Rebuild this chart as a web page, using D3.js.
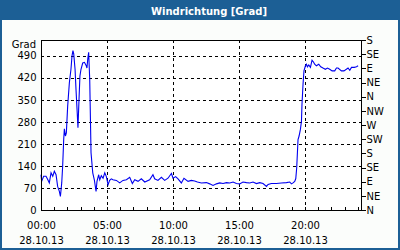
<!DOCTYPE html>
<html><head><meta charset="utf-8">
<script src="https://cdn.jsdelivr.net/npm/d3@7"></script>
<style>
html,body{margin:0;padding:0;background:#fff;}
svg{display:block;}
text{font-family:"DejaVu Sans",Verdana,sans-serif;}
</style></head>
<body>
<script>
const title = "Windrichtung [Grad]";
const yUnit = "Grad";
const hours = [0.00,0.05,0.20,0.38,0.50,0.63,0.76,0.89,1.01,1.14,1.26,1.39,1.47,1.57,1.64,1.72,1.77,1.85,1.92,2.02,2.15,2.27,2.35,2.42,2.48,2.58,2.65,2.73,2.80,2.88,2.95,3.03,3.16,3.29,3.41,3.48,3.54,3.61,3.69,3.79,3.92,4.04,4.17,4.24,4.37,4.45,4.57,4.70,4.83,4.95,5.08,5.20,5.33,5.45,5.71,5.96,6.21,6.47,6.72,6.92,7.10,7.35,7.60,7.86,8.23,8.48,8.61,8.86,9.12,9.37,9.62,9.88,10.00,10.20,10.38,10.63,10.83,11.14,11.39,11.64,11.85,12.15,12.53,12.78,13.03,13.29,13.54,13.79,14.05,14.30,14.55,14.80,15.05,15.30,15.56,15.81,16.06,16.32,16.57,16.82,17.08,17.20,17.45,17.83,18.21,18.59,18.84,18.97,19.09,19.22,19.30,19.37,19.47,19.55,19.65,19.73,19.77,19.85,19.92,20.03,20.10,20.18,20.28,20.41,20.53,20.64,20.73,20.86,21.04,21.19,21.36,21.54,21.70,21.87,22.05,22.25,22.38,22.50,22.76,22.95,23.13,23.26,23.39,23.52,23.73,23.90,24.02];
const direction = [112,91,107,107,98,86,118,107,123,112,75,59,43,86,139,224,258,235,245,330,405,447,490,506,496,447,384,320,261,352,426,447,467,469,460,451,479,501,416,182,118,96,59,91,112,96,109,101,118,106,80,94,99,96,94,86,94,96,104,84,96,91,99,89,96,112,99,94,104,94,101,116,101,106,99,86,101,91,94,92,89,86,87,83,78,83,86,84,87,86,89,84,83,89,87,86,89,84,87,84,75,81,84,84,86,87,89,83,86,91,100,134,224,235,256,282,336,400,442,458,463,455,461,453,476,470,463,458,463,455,451,447,451,447,442,442,451,451,442,442,447,451,444,453,453,455,458];
const yTicks = [0,70,140,210,280,350,420,490];
const compassValues = [0,45,90,135,180,225,270,315,360,405,450,495,540];
const compassLabels = ["N","NE","E","SE","S","SW","W","NW","N","NE","E","SE","S"];
const xMajorTicks = [0,5,10,15,20];
const xMajorLabels = ["00:00","05:00","10:00","15:00","20:00"];
const dateLabel = "28.10.13";

const W = 400, H = 250;
const svg = d3.select("body").append("svg").attr("width", W).attr("height", H);
const blue = "#1c5f95";
svg.append("rect").attr("x",0).attr("y",0).attr("width",W).attr("height",H).attr("fill",blue);
svg.append("rect").attr("x",2).attr("y",20).attr("width",W-4).attr("height",H-22).attr("fill","#fbfdfb");
svg.append("text").attr("x",209).attr("y",15).attr("text-anchor","middle")
  .attr("fill","#fff").attr("font-weight","bold").attr("font-size","10px").text(title);

const pL = 41, pR = 361, pT = 40, pB = 210;
const x = d3.scaleLinear().domain([0, 24.24]).range([pL, pR]);
const y = d3.scaleLinear().domain([0, 540]).range([pB, pT]);

svg.append("rect").attr("x",pL).attr("y",pT).attr("width",pR-pL).attr("height",pB-pT).attr("fill","#fff");

const grid = svg.append("g").attr("stroke","#000").attr("stroke-dasharray","3,3").attr("shape-rendering","crispEdges");
grid.selectAll("line.h").data(yTicks.filter(d=>d>0)).join("line").attr("class","h")
  .attr("x1",pL).attr("x2",pR).attr("y1",d=>Math.round(y(d))+0.5).attr("y2",d=>Math.round(y(d))+0.5);
grid.selectAll("line.v").data(xMajorTicks.filter(d=>d>0)).join("line").attr("class","v")
  .attr("y1",pT).attr("y2",pB).attr("x1",d=>Math.round(x(d))+0.5).attr("x2",d=>Math.round(x(d))+0.5);

const pts = hours.map((h,i)=>[h, direction[i]]);
svg.append("path").datum(pts).attr("fill","none").attr("stroke","#0000f0").attr("stroke-width",1.1)
  .attr("d", d3.line().x(d=>x(d[0])).y(d=>y(d[1])));

const gl = svg.append("g").attr("transform",`translate(${pL+0.5},0)`)
  .call(d3.axisLeft(y).tickValues(yTicks).tickSize(0).tickPadding(5));
gl.select(".domain").remove();
gl.selectAll("text").attr("font-size","10px").attr("fill","#000").attr("font-family","DejaVu Sans");
svg.append("text").attr("x",36).attr("y",48).attr("text-anchor","end").attr("font-size","10px").text(yUnit);

const gr = svg.append("g").attr("transform",`translate(${pR+0.5},0)`)
  .call(d3.axisRight(y).tickValues(compassValues).tickFormat((d,i)=>compassLabels[i]).tickSize(4).tickPadding(1));
gr.select(".domain").remove();
gr.selectAll("line").attr("shape-rendering","crispEdges");
gr.selectAll("text").attr("font-size","10px").attr("fill","#000").attr("font-family","DejaVu Sans");

const hourTicks = d3.range(0, 25);
svg.append("g").attr("shape-rendering","crispEdges").selectAll("line").data(hourTicks).join("line")
  .attr("x1",d=>Math.round(x(d))+0.5).attr("x2",d=>Math.round(x(d))+0.5)
  .attr("y1",pB).attr("y2",pB-3).attr("stroke","#000");
const gb = svg.append("g").attr("transform",`translate(0,${pB})`)
  .call(d3.axisBottom(x).tickValues(xMajorTicks).tickFormat((d,i)=>xMajorLabels[i]).tickSize(0).tickPadding(12));
gb.select(".domain").remove();
gb.selectAll("text").attr("font-size","10px").attr("fill","#000").attr("font-family","DejaVu Sans");
gb.selectAll(".tick").append("text").attr("y",27).attr("dy","0.71em").attr("fill","#000")
  .attr("font-size","10px").attr("font-family","DejaVu Sans").text(dateLabel);

svg.append("rect").attr("x",pL+0.5).attr("y",pT+0.5).attr("width",pR-pL).attr("height",pB-pT)
  .attr("fill","none").attr("stroke","#000").attr("shape-rendering","crispEdges");
</script>
</body></html>
